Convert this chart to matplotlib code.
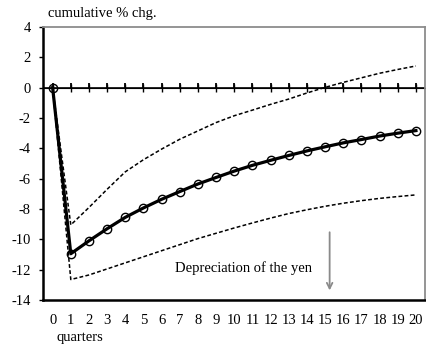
import matplotlib.pyplot as plt
import numpy as np

plt.rcParams['font.family'] = ['Liberation Serif', 'DejaVu Serif']

quarters = np.arange(0, 21)
# point estimate and the two confidence bands (cumulative % change)
response = [0, -10.95, -10.1, -9.3, -8.55, -7.93, -7.36, -6.85, -6.35, -5.92,
            -5.5, -5.12, -4.79, -4.47, -4.17, -3.9, -3.64, -3.42, -3.19, -3.0, -2.83]
upper = [0, -9.05, -7.9, -6.7, -5.55, -4.75, -4.05, -3.4, -2.85, -2.3,
         -1.85, -1.48, -1.1, -0.75, -0.35, 0.02, 0.35, 0.65, 0.95, 1.2, 1.43]
lower = [0, -12.65, -12.35, -11.95, -11.55, -11.15, -10.75, -10.35, -9.95, -9.6,
         -9.25, -8.92, -8.6, -8.3, -8.05, -7.82, -7.62, -7.45, -7.3, -7.18, -7.07]
yticks = np.arange(-14, 5, 2)

fig = plt.figure(figsize=(4.26, 3.49), dpi=100)
ax = fig.add_axes([43/426, 49/349, 382/426, 273/349])

# zero line with the quarter ticks standing on it
ax.axhline(0, color='black', lw=1.2, zorder=2)
ax.vlines(quarters, 0, 0.32, colors='black', linewidths=1.3, zorder=2)
zero = ax.secondary_xaxis(14/18)
zero.set_xticks(quarters)
zero.tick_params(direction='inout', length=6, width=1, labelbottom=False, labeltop=False)

ax.plot(quarters, upper, color='black', lw=1.1, linestyle=(0, (2.5, 1.5)))
ax.plot(quarters, lower, color='black', lw=1.1, linestyle=(0, (2.5, 1.5)))
ax.plot(quarters, response, color='black', lw=2.3, marker='o', markersize=6,
        markerfacecolor='none', markeredgecolor='black', markeredgewidth=1.0, zorder=3)

ax.set_xlim(-0.53, 20.5)
ax.set_ylim(-14, 4)
ax.set_yticks(yticks)
ax.set_yticklabels([str(v) for v in yticks])
ax.set_xticks(quarters)
ax.set_xticklabels([str(q) for q in quarters])
ax.tick_params(axis='x', length=0, pad=10, labelsize=10.5)
ax.tick_params(axis='y', direction='out', length=3, width=1, pad=6, labelsize=10.5)

for side in ['left', 'bottom']:
    ax.spines[side].set_linewidth(1.8)
    ax.spines[side].set_color('black')
for side in ['top', 'right']:
    ax.spines[side].set_linewidth(1.3)
    ax.spines[side].set_color('#8c8c8c')

ax.text(6.73, -11.9, 'Depreciation of the yen', fontsize=10.5, ha='left', va='center')
ax.annotate('', xy=(15.25, -13.55), xytext=(15.25, -9.35),
            arrowprops=dict(arrowstyle='->', color='#8a8a8a', lw=1.3))

fig.text(48/426, 1 - 14/349, 'cumulative % chg.', fontsize=10.5, ha='left', va='center')
fig.text(57/426, 1 - 338/349, 'quarters', fontsize=10.5, ha='left', va='center')

fig.savefig('out.png', dpi=100)
